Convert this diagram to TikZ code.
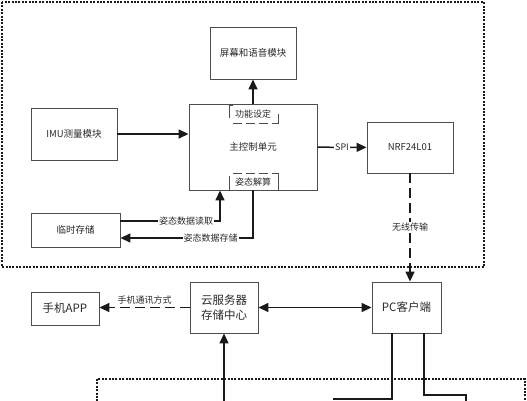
\documentclass[tikz,border=0pt]{standalone}
\usepackage{fontspec}
\setmainfont{Noto Sans CJK SC}
\usepackage{xcolor}
\usetikzlibrary{arrows.meta}
\definecolor{ki}{HTML}{1a1a1a}
\definecolor{kbox}{HTML}{4d4d4d}
\definecolor{ktext}{HTML}{2a2a2a}
\definecolor{kw}{HTML}{ffffff}

\begin{document}
\begin{tikzpicture}[x=1pt,y=-1pt,
  box/.style={draw=kbox,line width=0.9pt,fill=kw,text=ktext,inner sep=0pt,
    font=\fontsize{9.5}{12}\selectfont},
  bigbox/.style={box,font=\fontsize{11.5}{15}\selectfont,align=center},
  lab/.style={fill=kw,text=ktext,inner sep=1pt,font=\fontsize{9}{11}\selectfont},
  arr/.style={ki,line width=1.5pt,-{Triangle[length=10pt,width=9pt]}},
  darr/.style={arr,{Triangle[length=10pt,width=9pt]}-{Triangle[length=10pt,width=9pt]}},
  wire/.style={ki,line width=1.5pt},
  dash arr/.style={arr,dash pattern=on 10pt off 5pt},
  frame/.style={ki,line width=1.3pt,dash pattern=on 2pt off 1.4pt},
  mark line/.style={kbox,line width=0.8pt}]
  \useasboundingbox (0,0) rectangle (527,400);
  \clip (0,0) rectangle (527,400);
  \fill[kw] (0,0) rectangle (527,400);

  % Dotted frames (upper one is the wearable node, lower one is cut off)
  \draw[frame] (2,2) rectangle (484,267);
  \draw[frame] (97,379) rectangle (525,410);

  % Blocks of the upper frame
  \node[box,minimum width=86,minimum height=52] (screen) at (253,53) {屏幕和语音模块};
  \node[box,minimum width=86,minimum height=52] (imu) at (74,134) {IMU测量模块};
  \node[box,minimum width=128,minimum height=86] (mcu) at (253,147) {主控制单元};
  \node[box,minimum width=89,minimum height=34] (temp) at (75.5,230) {临时存储};
  \node[box,minimum width=86,minimum height=51] (nrf) at (410,147.5) {NRF24L01};

  % Sub-functions marked inside the main control unit
  \node[lab,fill=none] (func) at (253,114) {功能设定};
  \draw[mark line] (233,105) -- (229,105) -- (229,118);
  \draw[mark line,dash pattern=on 9pt off 4pt] (233,123) -- (274,123);
  \draw[mark line] (274,123) -- (278,123) -- (278,114);
  \node[lab,fill=none] (calc) at (253,182) {姿态解算};
  \draw[mark line,dash pattern=on 9pt off 4pt] (233,173) -- (274,173);
  \draw[mark line] (229,176) -- (229,190);
  \draw[mark line] (274,173) -- (278,173) -- (278,190);

  % Blocks outside the frame
  \node[bigbox,minimum width=68,minimum height=33] (app) at (65,308.5) {手机APP};
  \node[bigbox,minimum width=68,minimum height=51] (cloud) at (224,307.5) {云服务器\\存储中心};
  \node[bigbox,minimum width=69,minimum height=51] (pc) at (406.5,307.5) {PC客户端};

  % Connections inside the node
  \draw[arr] (mcu) -- (screen);
  \draw[arr] (imu.east) -- (imu.east -| mcu.west);
  \draw[arr] (mcu) -- node[lab] {SPI} (nrf);
  \draw[arr] ([yshift=9pt]temp.east) -| node[lab,pos=0.33] {姿态数据读取} ([xshift=-33pt]mcu.south);
  \draw[arr] (mcu.south) |- node[lab,pos=0.66] {姿态数据存储} ([yshift=-8pt]temp.east);

  % Wireless link and server side
  \draw[dash arr] (nrf.south) -- node[lab] {无线传输} (nrf.south |- pc.north);
  \draw[darr] (cloud) -- (pc);
  \draw[dash arr] (cloud.west) -- node[lab,above=1pt,fill=none] {手机通讯方式} (cloud.west -| app.east);

  % Lines running into the lower frame
  \coordinate (cin) at (224,402);
  \coordinate (pcl) at (333,399);
  \coordinate (pcrb) at (466,395);
  \coordinate (pcr) at (466,402);
  \draw[arr] (cin) -- (cloud.south);
  \draw[wire] ([xshift=-14.5pt]pc.south) |- (pcl);
  \draw[wire] ([xshift=17.5pt]pc.south) |- (pcrb) -- (pcr);

\end{tikzpicture}
\end{document}
